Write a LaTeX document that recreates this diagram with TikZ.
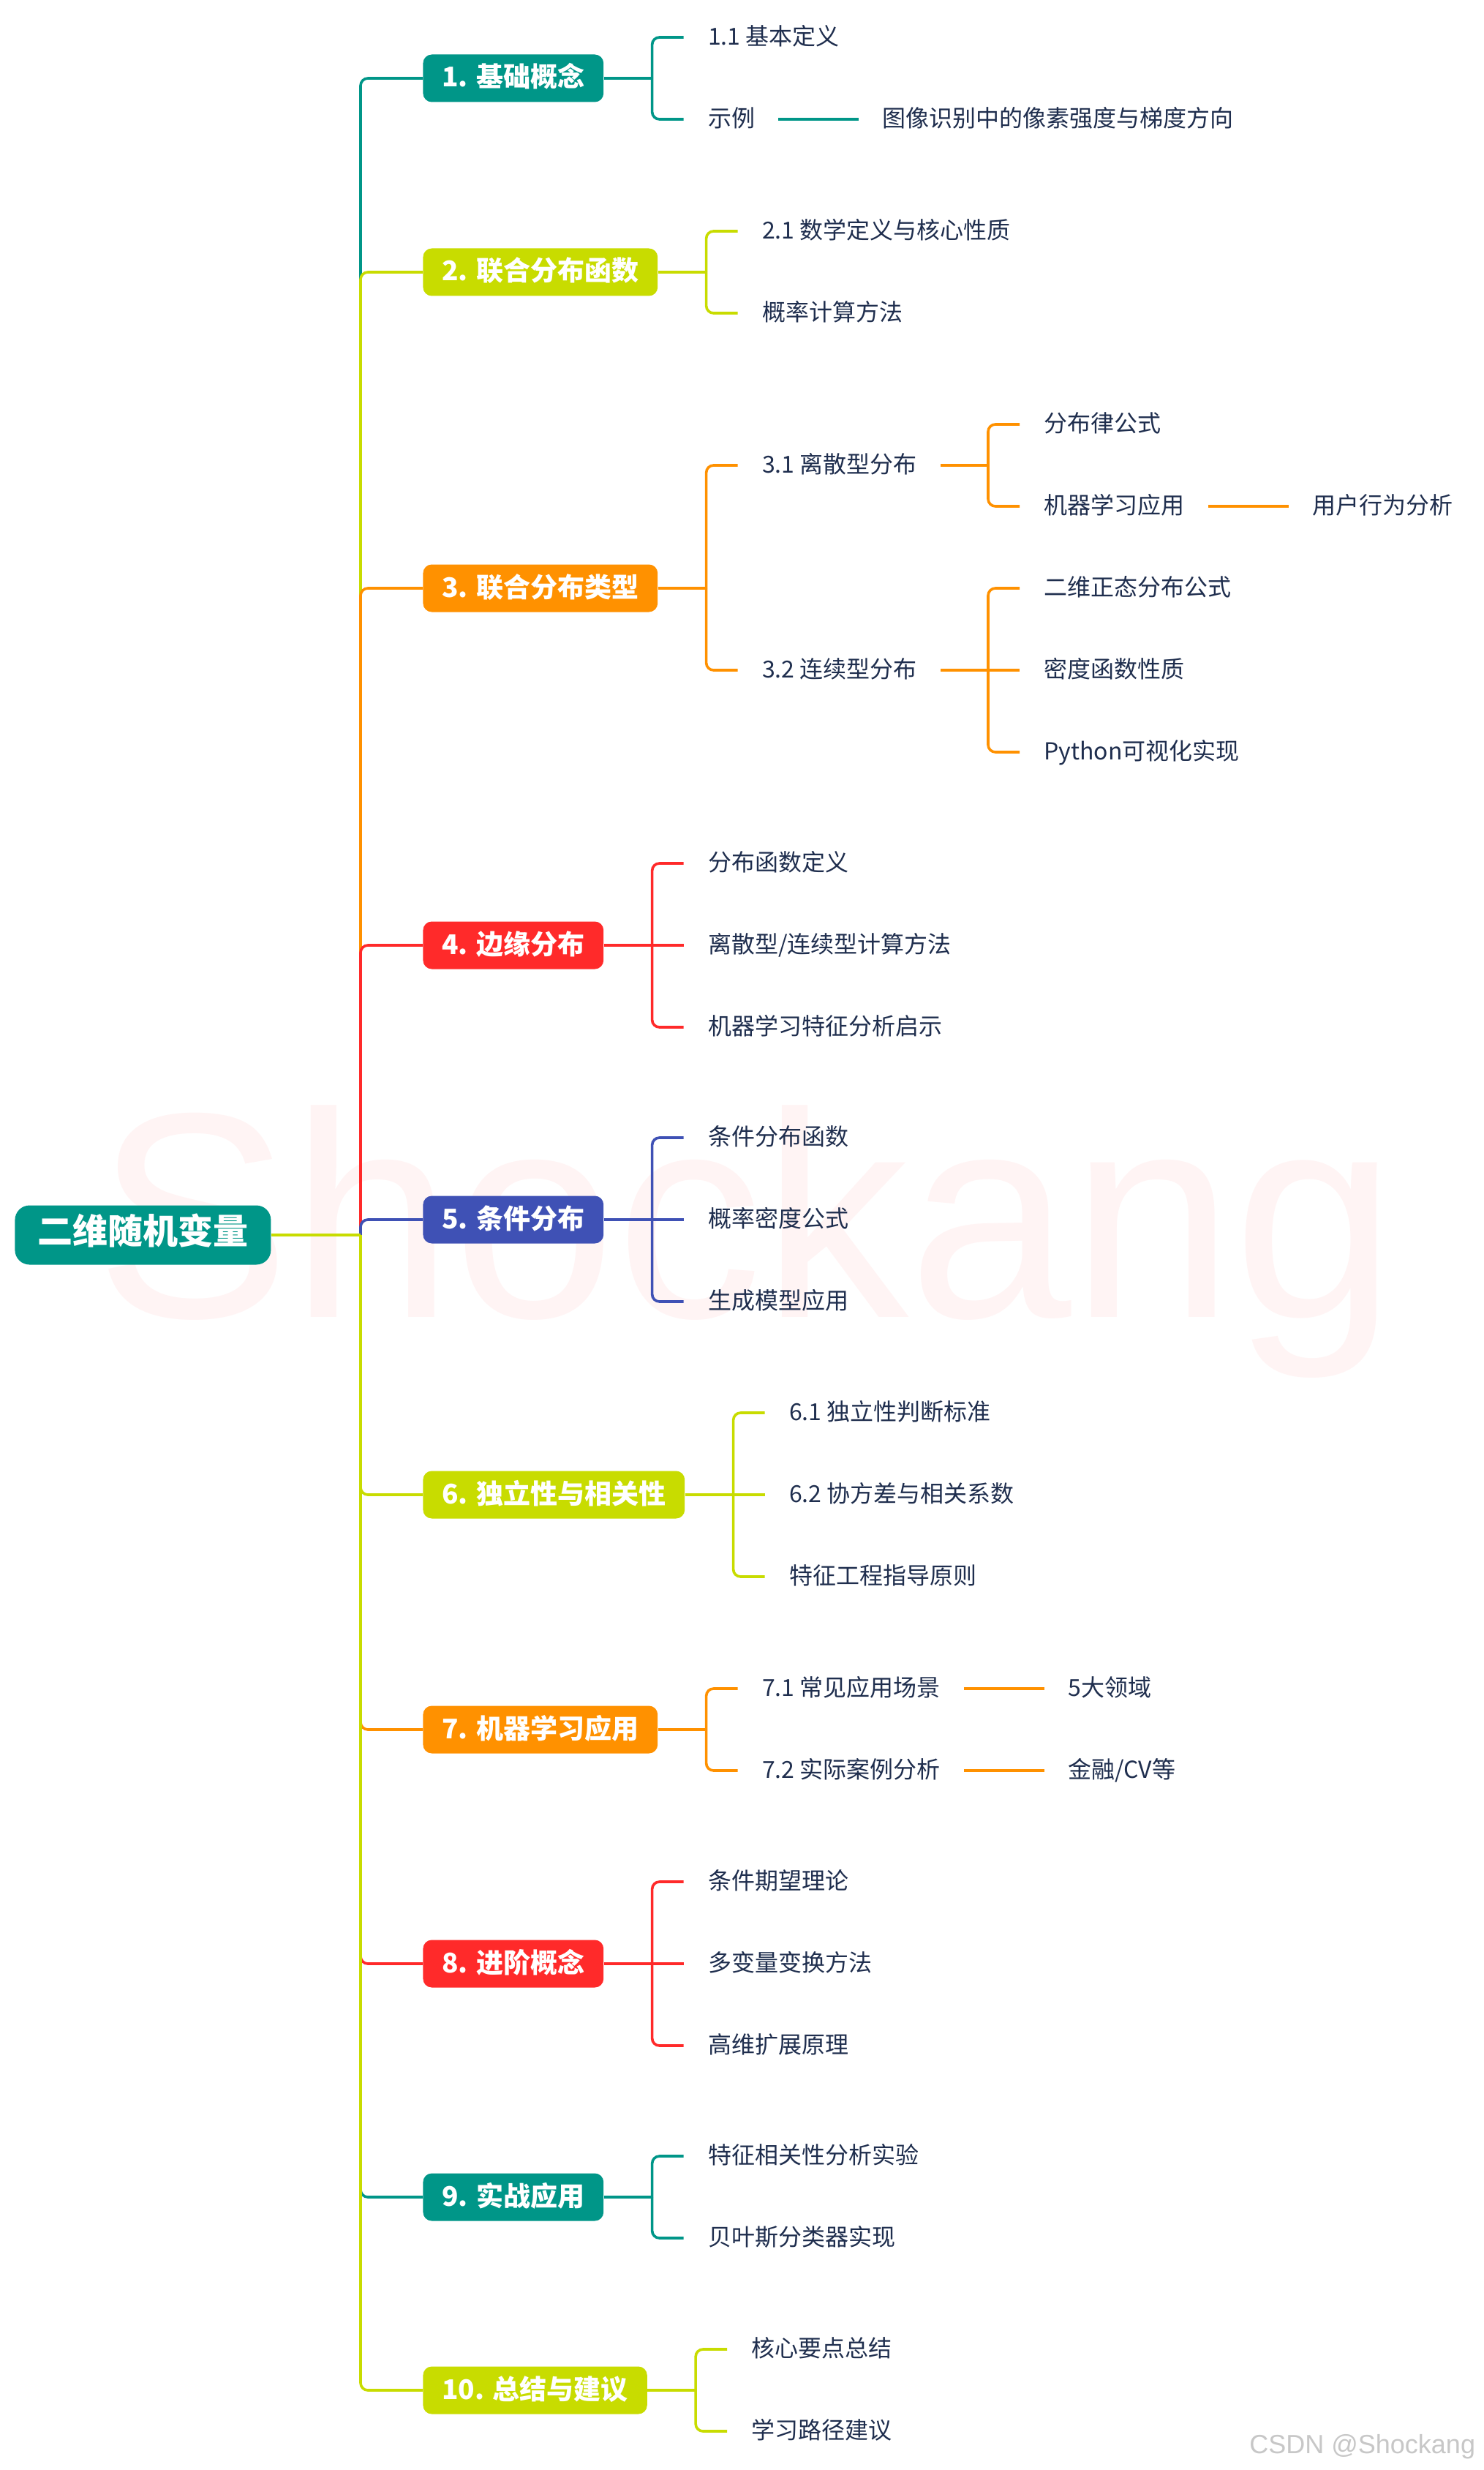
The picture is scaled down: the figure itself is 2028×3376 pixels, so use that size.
\documentclass[tikz,border=0pt]{standalone}
\usepackage{fontspec}
\setmainfont{Noto Sans CJK SC}
\newfontfamily\wmfont{Liberation Sans}
\usetikzlibrary{calc}
\definecolor{cteal}{HTML}{009688}
\definecolor{cyg}{HTML}{C8DC00}
\definecolor{corange}{HTML}{FF9100}
\definecolor{cred}{HTML}{FF2A2A}
\definecolor{cblue}{HTML}{3F51B5}
\definecolor{ctxt}{HTML}{1F2E4E}
\definecolor{wmpink}{HTML}{FFF4F4}
\begin{document}
\begin{tikzpicture}[x=0.5pt,y=-0.5pt,
  conn/.style={line width=1.8pt, rounded corners=5pt},
  bbox/.style={rounded corners=6pt, text=white, font=\fontsize{18.5pt}{18.5pt}\selectfont\bfseries,
    inner xsep=13pt, inner ysep=0pt, minimum height=32.5pt, anchor=west, text height=1.2em, text depth=0em},
  rootbox/.style={rounded corners=10pt, fill=cteal, text=white, font=\fontsize{24pt}{24pt}\selectfont\bfseries,
    inner xsep=15.5pt, inner ysep=0pt, minimum height=40.5pt, anchor=west, text height=1.25em, text depth=0em},
  ctext/.style={text=ctxt, font=\fontsize{16pt}{16pt}\selectfont, inner sep=0pt, anchor=west,
    text height=1.1em, text depth=0.02em},
]
\useasboundingbox (0,0) rectangle (2028,3376);
\fill[white] (0,0) rectangle (2028,3376);
% watermarks
\node[font=\wmfont\fontsize{200pt}{200pt}\selectfont, text=wmpink, anchor=base west, inner sep=0pt] (wm) at (130,1800) {Shockang};
\node[font=\wmfont\fontsize{18pt}{18pt}\selectfont, text=black!22, anchor=base west, inner sep=0pt] (csdn) at (1708,3353) {CSDN @Shockang};

% root
\node[rootbox] (root) at (20,1688) {二维随机变量};
\coordinate (T) at (493,1688);

% ---------- branch 1
\node[bbox, fill=cteal] (b1) at (578,107) {1. 基础概念};
\draw[conn, cteal] (T) |- (b1.west);
\draw[conn, cteal] (b1.east) -- ++(66,0) coordinate (x1);
\path (x1) ++(76,-56) node[ctext] (c11) {1.1 基本定义};
\path (x1) ++(76,56) node[ctext] (c12) {示例};
\draw[conn, cteal] (x1) |- ([xshift=-16.5pt]c11.west);
\draw[conn, cteal] (x1) |- ([xshift=-16.5pt]c12.west);
\draw[conn, cteal] ([xshift=16pt]c12.east) -- ++(110,0) coordinate (e12);
\path (e12) ++(32,0) node[ctext] (c121) {图像识别中的像素强度与梯度方向};

% ---------- branch 2
\node[bbox, fill=cyg] (b2) at (578,372) {2. 联合分布函数};
\draw[conn, cyg] (T) |- (b2.west);
\draw[conn, cyg] (b2.east) -- ++(66,0) coordinate (x2);
\path (x2) ++(76,-56) node[ctext] (c21) {2.1 数学定义与核心性质};
\path (x2) ++(76,56) node[ctext] (c22) {概率计算方法};
\draw[conn, cyg] (x2) |- ([xshift=-16.5pt]c21.west);
\draw[conn, cyg] (x2) |- ([xshift=-16.5pt]c22.west);

% ---------- branch 3
\node[bbox, fill=corange] (b3) at (578,804) {3. 联合分布类型};
\draw[conn, corange] (T) |- (b3.west);
\draw[conn, corange] (b3.east) -- ++(66,0) coordinate (x3);
\path (x3) ++(76,-168) node[ctext] (c31) {3.1 离散型分布};
\path (x3) ++(76,112) node[ctext] (c32) {3.2 连续型分布};
\draw[conn, corange] (x3) |- ([xshift=-16.5pt]c31.west);
\draw[conn, corange] (x3) |- ([xshift=-16.5pt]c32.west);
\draw[conn, corange] ([xshift=16pt]c31.east) -- ++(65,0) coordinate (x31);
\path (x31) ++(76,-56) node[ctext] (g311) {分布律公式};
\path (x31) ++(76,56) node[ctext] (g312) {机器学习应用};
\draw[conn, corange] (x31) |- ([xshift=-16.5pt]g311.west);
\draw[conn, corange] (x31) |- ([xshift=-16.5pt]g312.west);
\draw[conn, corange] ([xshift=16pt]g312.east) -- ++(110,0) coordinate (e312);
\path (e312) ++(32,0) node[ctext] (h3121) {用户行为分析};
\draw[conn, corange] ([xshift=16pt]c32.east) -- ++(65,0) coordinate (x32);
\path (x32) ++(76,-112) node[ctext] (g321) {二维正态分布公式};
\path (x32) ++(76,0) node[ctext] (g322) {密度函数性质};
\path (x32) ++(76,112) node[ctext] (g323) {Python可视化实现};
\draw[conn, corange] (x32) |- ([xshift=-16.5pt]g321.west);
\draw[conn, corange] (x32) -- ([xshift=-16.5pt]g322.west);
\draw[conn, corange] (x32) |- ([xshift=-16.5pt]g323.west);

% ---------- branch 4
\node[bbox, fill=cred] (b4) at (578,1292) {4. 边缘分布};
\draw[conn, cred] (T) |- (b4.west);
\draw[conn, cred] (b4.east) -- ++(66,0) coordinate (x4);
\path (x4) ++(76,-112) node[ctext] (c41) {分布函数定义};
\path (x4) ++(76,0) node[ctext] (c42) {离散型/连续型计算方法};
\path (x4) ++(76,112) node[ctext] (c43) {机器学习特征分析启示};
\draw[conn, cred] (x4) |- ([xshift=-16.5pt]c41.west);
\draw[conn, cred] (x4) -- ([xshift=-16.5pt]c42.west);
\draw[conn, cred] (x4) |- ([xshift=-16.5pt]c43.west);

% ---------- branch 5
\node[bbox, fill=cblue] (b5) at (578,1667) {5. 条件分布};
\draw[conn, cblue] (T) |- (b5.west);
\draw[conn, cblue] (b5.east) -- ++(66,0) coordinate (x5);
\path (x5) ++(76,-112) node[ctext] (c51) {条件分布函数};
\path (x5) ++(76,0) node[ctext] (c52) {概率密度公式};
\path (x5) ++(76,112) node[ctext] (c53) {生成模型应用};
\draw[conn, cblue] (x5) |- ([xshift=-16.5pt]c51.west);
\draw[conn, cblue] (x5) -- ([xshift=-16.5pt]c52.west);
\draw[conn, cblue] (x5) |- ([xshift=-16.5pt]c53.west);

% ---------- branch 6
\node[bbox, fill=cyg] (b6) at (578,2043) {6. 独立性与相关性};
\draw[conn, cyg] (T) |- (b6.west);
\draw[conn, cyg] (b6.east) -- ++(66,0) coordinate (x6);
\path (x6) ++(76,-112) node[ctext] (c61) {6.1 独立性判断标准};
\path (x6) ++(76,0) node[ctext] (c62) {6.2 协方差与相关系数};
\path (x6) ++(76,112) node[ctext] (c63) {特征工程指导原则};
\draw[conn, cyg] (x6) |- ([xshift=-16.5pt]c61.west);
\draw[conn, cyg] (x6) -- ([xshift=-16.5pt]c62.west);
\draw[conn, cyg] (x6) |- ([xshift=-16.5pt]c63.west);

% ---------- branch 7
\node[bbox, fill=corange] (b7) at (578,2364) {7. 机器学习应用};
\draw[conn, corange] (T) |- (b7.west);
\draw[conn, corange] (b7.east) -- ++(66,0) coordinate (x7);
\path (x7) ++(76,-56) node[ctext] (c71) {7.1 常见应用场景};
\path (x7) ++(76,56) node[ctext] (c72) {7.2 实际案例分析};
\draw[conn, corange] (x7) |- ([xshift=-16.5pt]c71.west);
\draw[conn, corange] (x7) |- ([xshift=-16.5pt]c72.west);
\draw[conn, corange] ([xshift=16pt]c71.east) -- ++(110,0) coordinate (e71);
\path (e71) ++(32,0) node[ctext] (g711) {5大领域};
\draw[conn, corange] ([xshift=16pt]c72.east) -- ++(110,0) coordinate (e72);
\path (e72) ++(32,0) node[ctext] (g721) {金融/CV等};

% ---------- branch 8
\node[bbox, fill=cred] (b8) at (578,2684) {8. 进阶概念};
\draw[conn, cred] (T) |- (b8.west);
\draw[conn, cred] (b8.east) -- ++(66,0) coordinate (x8);
\path (x8) ++(76,-112) node[ctext] (c81) {条件期望理论};
\path (x8) ++(76,0) node[ctext] (c82) {多变量变换方法};
\path (x8) ++(76,112) node[ctext] (c83) {高维扩展原理};
\draw[conn, cred] (x8) |- ([xshift=-16.5pt]c81.west);
\draw[conn, cred] (x8) -- ([xshift=-16.5pt]c82.west);
\draw[conn, cred] (x8) |- ([xshift=-16.5pt]c83.west);

% ---------- branch 9
\node[bbox, fill=cteal] (b9) at (578,3003) {9. 实战应用};
\draw[conn, cteal] (T) |- (b9.west);
\draw[conn, cteal] (b9.east) -- ++(66,0) coordinate (x9);
\path (x9) ++(76,-56) node[ctext] (c91) {特征相关性分析实验};
\path (x9) ++(76,56) node[ctext] (c92) {贝叶斯分类器实现};
\draw[conn, cteal] (x9) |- ([xshift=-16.5pt]c91.west);
\draw[conn, cteal] (x9) |- ([xshift=-16.5pt]c92.west);

% ---------- branch 10
\node[bbox, fill=cyg] (b10) at (578,3267) {10. 总结与建议};
\draw[conn, cyg] (T) |- (b10.west);
\draw[conn, cyg] (b10.east) -- ++(66,0) coordinate (x10);
\path (x10) ++(76,-56) node[ctext] (c101) {核心要点总结};
\path (x10) ++(76,56) node[ctext] (c102) {学习路径建议};
\draw[conn, cyg] (x10) |- ([xshift=-16.5pt]c101.west);
\draw[conn, cyg] (x10) |- ([xshift=-16.5pt]c102.west);

% root to trunk
\draw[conn, cyg] (root.east) -- (T);
\end{tikzpicture}
\end{document}
